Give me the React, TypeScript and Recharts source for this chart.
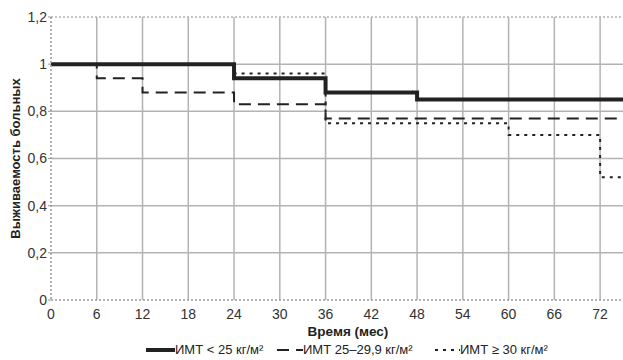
import { LineChart, CartesianGrid, XAxis, YAxis, Line, ReferenceLine } from 'recharts';

// Время (мес) и выживаемость по группам ИМТ
const months1 = [0, 24, 36, 48, 75];
const surv1 = [1, 0.94, 0.88, 0.85, 0.85];

const months2 = [0, 6, 12, 24, 36, 75];
const surv2 = [1, 0.94, 0.88, 0.83, 0.77, 0.77];

const months3 = [0, 24, 36, 60, 72, 75];
const surv3 = [1, 0.96, 0.75, 0.7, 0.52, 0.52];

const xTicks = [0, 6, 12, 18, 24, 30, 36, 42, 48, 54, 60, 66, 72];
const yTicks = [0, 0.2, 0.4, 0.6, 0.8, 1, 1.2];

const seriesNames = ['ИМТ < 25 кг/м²', 'ИМТ 25–29,9 кг/м²', 'ИМТ ≥ 30 кг/м²'];

const toRows = (xs: number[], ys: number[]) => xs.map((t, i) => ({ t, v: ys[i] }));

const font = '"Liberation Sans", Arial, sans-serif';
const gridColor = '#b3b3b3';

const legendRow = { position: 'absolute' as const, top: 342, display: 'flex', alignItems: 'center', fontSize: 13, color: '#222', whiteSpace: 'nowrap' as const };

function App() {
    return (
        <div style={{ position: 'absolute', left: 0, top: 0, width: 623, height: 360, fontFamily: font }}>
            <LineChart width={623} height={360} margin={{ top: 17, right: 0, bottom: 24, left: 0 }}>
                <CartesianGrid
                    stroke={gridColor}
                    strokeWidth={1.5}
                    horizontalValues={[0.2, 0.4, 0.6, 0.8, 1]}
                    verticalValues={[6, 12, 18, 24, 30, 36, 42, 48, 54, 60, 66, 72]}
                />
                <ReferenceLine y={1.2} stroke={gridColor} strokeWidth={1.5} strokeDasharray="2 2" />
                <XAxis
                    type="number"
                    dataKey="t"
                    domain={[0, 75]}
                    ticks={xTicks}
                    interval={0}
                    height={36}
                    tickLine={false}
                    tickMargin={3}
                    axisLine={{ stroke: '#999', strokeDasharray: '2 2', strokeWidth: 1.5 }}
                    tick={{ fill: '#333', fontSize: 14, fontFamily: font }}
                    label={{ value: 'Время (мес)', position: 'insideBottom', offset: 0, dx: 11, style: { fontWeight: 'bold', fontSize: 13.5, fill: '#222', fontFamily: font } }}
                />
                <YAxis
                    type="number"
                    domain={[0, 1.2]}
                    ticks={yTicks}
                    interval={0}
                    width={51}
                    tickSize={3}
                    tickMargin={1}
                    tickLine={{ stroke: '#999' }}
                    axisLine={{ stroke: '#999', strokeDasharray: '2 2', strokeWidth: 1.5 }}
                    tickFormatter={(v: number) => String(v).replace('.', ',')}
                    tick={{ fill: '#333', fontSize: 14, fontFamily: font }}
                    label={{ value: 'Выживаемость больных', angle: -90, position: 'insideLeft', offset: 15, style: { textAnchor: 'middle', fontWeight: 'bold', fontSize: 13, fill: '#222', fontFamily: font } }}
                />
                <Line data={toRows(months3, surv3)} dataKey="v" type="stepAfter" stroke="#222" strokeWidth={2} strokeDasharray="3 5" dot={false} isAnimationActive={false} />
                <Line data={toRows(months2, surv2)} dataKey="v" type="stepAfter" stroke="#222" strokeWidth={2} strokeDasharray="12 7" dot={false} isAnimationActive={false} />
                <Line data={toRows(months1, surv1)} dataKey="v" type="stepAfter" stroke="#222" strokeWidth={4} dot={false} isAnimationActive={false} />
            </LineChart>
            <div style={{ ...legendRow, left: 146 }}>
                <svg width={29} height={6}><line x1={0} y1={3} x2={29} y2={3} stroke="#222" strokeWidth={4} /></svg>
                <span>{seriesNames[0]}</span>
            </div>
            <div style={{ ...legendRow, left: 277 }}>
                <svg width={26} height={6}><line x1={0} y1={3} x2={26} y2={3} stroke="#222" strokeWidth={2} strokeDasharray="12 7" /></svg>
                <span>{seriesNames[1]}</span>
            </div>
            <div style={{ ...legendRow, left: 435 }}>
                <svg width={25} height={6}><line x1={0} y1={3} x2={25} y2={3} stroke="#222" strokeWidth={2} strokeDasharray="3 5" /></svg>
                <span>{seriesNames[2]}</span>
            </div>
        </div>
    );
}

export default App;
